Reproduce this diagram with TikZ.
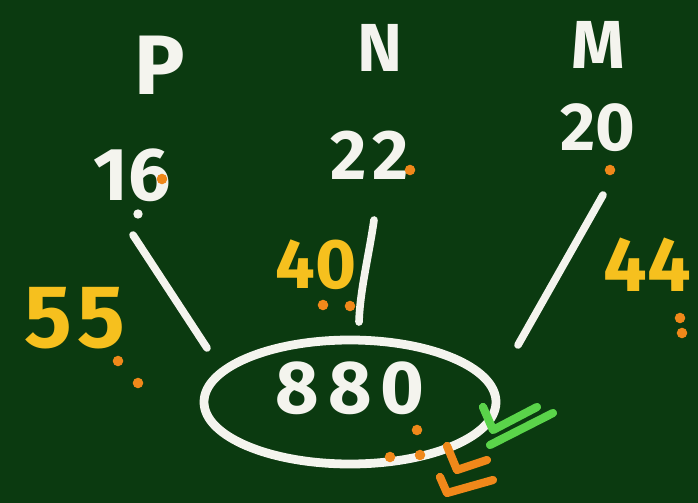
\documentclass[tikz,border=0pt]{standalone}
\usepackage{fontspec}
\setmainfont{Fira Sans}
\definecolor{board}{HTML}{0B3A10}
\definecolor{chalk}{HTML}{F4F4EE}
\definecolor{yel}{HTML}{F6C01E}
\definecolor{org}{HTML}{F0881A}
\definecolor{grn}{HTML}{5AD44A}
\begin{document}
\begin{tikzpicture}[x=0.03cm,y=-0.03cm,
  wtxt/.style={text=chalk,inner sep=0pt,font=\fontsize{#1}{#1}\selectfont\bfseries},
  ytxt/.style={text=yel,inner sep=0pt,font=\fontsize{#1}{#1}\selectfont\bfseries},
  stroke/.style={draw=chalk,line width=6.5pt,line cap=round},
  odot/.style={fill=org,circle,inner sep=0pt,minimum size=9pt},
  tickmark/.style={line width=7pt,line cap=round,line join=round}]
\fill[board] (0,0) rectangle (698,503);
\useasboundingbox (0,0) rectangle (698,503);
% column headers
\node[wtxt=72] (P) at (160,65) {P};
\node[wtxt=58] (N) at (380,48) {N};
\node[wtxt=58] (M) at (598,45) {M};
% values
\node[wtxt=64] (v16) at (132,175) {16};
\node[wtxt=60] (v22) at (370,155) {\addfontfeatures{LetterSpace=8}22};
\node[wtxt=58] (v20) at (598,128) {20};
\node[odot] (d16) at (162,179) {};
\node[odot] (d22) at (410,170) {};
\node[odot] (d20) at (610,170) {};
\node[fill=chalk,circle,inner sep=0pt,minimum size=8pt] (w16) at (138,214) {};
% product
\draw[draw=chalk,line width=7.5pt] (350,402) ellipse [x radius=146, y radius=62];
\node[wtxt=64] (prod) at (350,388) {\addfontfeatures{LetterSpace=12}880};
% connectors
\coordinate (a1) at (133,235); \coordinate (a2) at (207,348);
\coordinate (b1) at (374,220); \coordinate (b2) at (359,322);
\coordinate (c1) at (603,195); \coordinate (c2) at (518,345);
\draw[stroke] (a1) -- (a2);
\draw[stroke] (b1) .. controls (369,255) and (360,290) .. (b2);
\draw[stroke] (c1) -- (c2);
% quotients
\node[ytxt=76] (q55) at (75,318) {\addfontfeatures{LetterSpace=6}55};
\node[ytxt=60] (q40) at (316,265) {40};
\node[ytxt=66] (q44) at (647,265) {44};
\node[odot] (e1) at (118,361) {};
\node[odot] (e2) at (138,383) {};
\node[odot] (f1) at (323,305) {};
\node[odot] (f2) at (350,306) {};
\node[odot] (g1) at (680,318) {};
\node[odot] (g2) at (682,333) {};
\node[odot] (h1) at (417,430) {};
\node[odot] (h2) at (390,457) {};
\node[odot] (h3) at (420,455) {};
% tick marks
\draw[tickmark,draw=org] (447,446) -- (457,470) -- (487,460);
\draw[tickmark,draw=org] (440,477) -- (447,493) -- (493,480);
\draw[tickmark,draw=grn] (483,407) -- (493,430) -- (537,407);
\draw[tickmark,draw=grn] (490,445) -- (553,413);
\end{tikzpicture}
\end{document}
